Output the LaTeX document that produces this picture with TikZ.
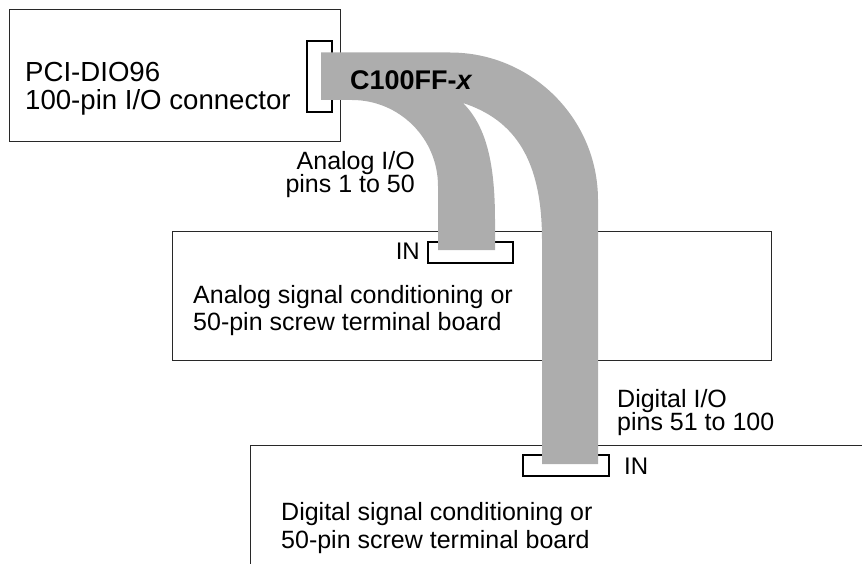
\documentclass[tikz,border=0pt]{standalone}
\usepackage{fontspec}
\setmainfont{Liberation Sans}
\definecolor{cablegray}{RGB}{173,173,173}
\definecolor{boardline}{RGB}{40,40,40}
\begin{document}
\begin{tikzpicture}[x=1pt,y=-1pt,
  board/.style={draw=boardline,line width=1pt},
  plug/.style={draw=black,line width=1.7pt},
  cable/.style={fill=cablegray,draw=none},
  bigtxt/.style={font=\fontsize{27.6}{32}\selectfont,inner sep=0pt,anchor=base west},
  txt/.style={font=\fontsize{25}{30}\selectfont,inner sep=0pt,anchor=base west},
  rtxt/.style={txt,anchor=base east},
  intxt/.style={font=\fontsize{24}{28}\selectfont,inner sep=0pt,anchor=base west}]
\useasboundingbox (0,0) rectangle (862,564);
% boards
\draw[board] (9,10) rectangle (340,142);
\draw[board] (172,232) rectangle (771,360);
\draw[board] (250,564) -- (250,445.5) -- (862,445.5);
% plugs
\draw[plug] (307,41) rectangle (332,112);
\draw[plug] (428,242) rectangle (513,263);
\draw[plug] (523,455) rectangle (609,476);
% cable
\path[cable] (321,52.5) -- (450,52.5)
  .. controls (531.7,52.5) and (598,118.8) .. (598,200)
  -- (598,464) -- (542,464) -- (542,240)
  .. controls (542,160) and (515,120) .. (463,103)
  .. controls (485,125) and (495,160) .. (495,220)
  -- (495,250) -- (438,250) -- (438,186)
  .. controls (438,138.5) and (399.5,100) .. (352,100)
  -- (321,100) -- cycle;
% texts
\node[bigtxt] (pci1) at (25,82) {PCI-DIO96};
\node[bigtxt] (pci2) at (25,110) {100-pin I/O connector};
\node[bigtxt,font=\fontsize{27}{32}\selectfont\bfseries] (cab) at (350,90) {C100FF-\textit{x}};
\node[rtxt] (an1) at (415,170) {Analog I/O};
\node[rtxt] (an2) at (415,193) {pins 1 to 50};
\node[intxt,anchor=base east] (in1) at (420,259) {IN};
\node[txt] (ab1) at (193,303) {Analog signal conditioning or};
\node[txt] (ab2) at (193,330) {50-pin screw terminal board};
\node[txt] (di1) at (617,407) {Digital I/O};
\node[txt] (di2) at (617,430) {pins 51 to 100};
\node[intxt] (in2) at (624,474) {IN};
\node[txt] (db1) at (281,520) {Digital signal conditioning or};
\node[txt] (db2) at (281,548) {50-pin screw terminal board};
\end{tikzpicture}
\end{document}
